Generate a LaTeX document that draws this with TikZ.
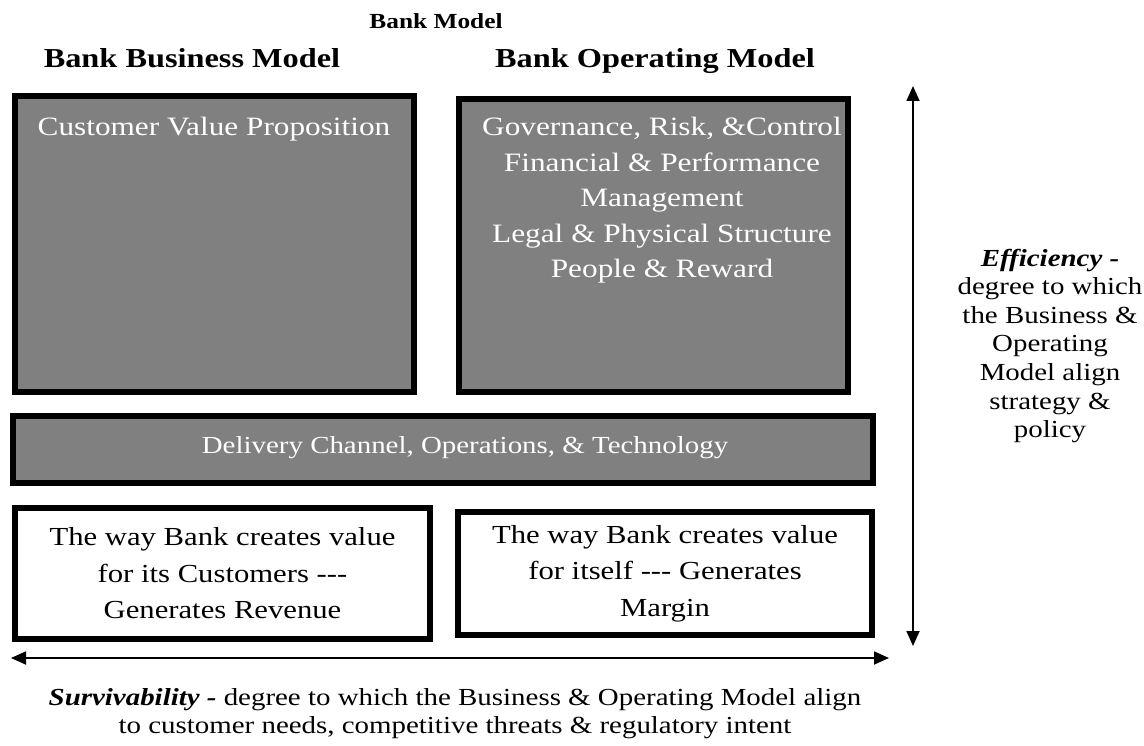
\documentclass[tikz,border=0pt]{standalone}
\usepackage{fontspec}
\setmainfont[FakeStretch=1.18]{Liberation Serif}
\usetikzlibrary{arrows.meta}
\definecolor{boxgray}{HTML}{808080}
\tikzset{
  x=1pt,y=-1pt,
  graybox/.style={draw=black,line width=5.5pt,fill=boxgray,rectangle,inner sep=0pt},
  whitebox/.style={draw=black,line width=5.5pt,fill=white,rectangle,inner sep=0pt,align=center,font=\fontsize{26}{36.5}\selectfont},
  wtext/.style={text=white,align=center,font=\fontsize{26.5}{35.5}\selectfont,inner sep=0pt},
  head/.style={font=\fontsize{27.4}{30}\selectfont\bfseries,inner sep=0pt,anchor=base},
  side/.style={align=center,font=\fontsize{24.5}{28.6}\selectfont,inner sep=0pt},
  axis/.style={line width=1.8pt,{Triangle[length=15pt,width=13pt]}-{Triangle[length=15pt,width=13pt]}}
}
\begin{document}
\begin{tikzpicture}
\useasboundingbox (0,0) rectangle (1144,746);
% headers
\node[head,font=\fontsize{21.5}{26}\selectfont\bfseries] (bm) at (436,29) {Bank Model};
\node[head] (bbm) at (192,68) {Bank Business Model};
\node[head] (bom) at (655,68) {Bank Operating Model};
% gray boxes
\node[graybox,minimum width=399,minimum height=296] (cvp) at (214.5,244) {};
\node[wtext,anchor=north] (cvpt) at (214,117) {Customer Value Proposition};
\node[graybox,minimum width=389,minimum height=293] (grc) at (653.5,245.5) {};
\node[wtext,anchor=north] (grct) at (662,117) {Governance, Risk, \&Control\\Financial \& Performance\\Management\\Legal \& Physical Structure\\People \& Reward};
\node[graybox,minimum width=860,minimum height=67] (dct) at (443,449.5) {};
\node[wtext,font=\fontsize{24.5}{30}\selectfont] (dctt) at (465,448) {Delivery Channel, Operations, \& Technology};
% white boxes
\node[whitebox,minimum width=415,minimum height=131] (cust) at (222.5,573.5) {The way Bank creates value\\for its Customers -{}-{}-\\Generates Revenue};
\node[whitebox,minimum width=414,minimum height=123] (self) at (665,573.5) {The way Bank creates value\\for itself -{}-{}- Generates\\Margin};
% axes
\coordinate (vt) at (913,86);
\coordinate (vb) at (913,646);
\coordinate (hl) at (11,658);
\coordinate (hr) at (889,658);
\draw[axis] (vt) -- (vb);
\draw[axis] (hl) -- (hr);
% side texts
\node[side] (eff) at (1050,346) {\textbf{\textit{Efficiency -}}\\degree to which\\the Business \&\\Operating\\Model align\\strategy \&\\policy};
\node[side,anchor=north] (surv) at (455,688) {\textbf{\textit{Survivability -}} degree to which the Business \& Operating Model align\\to customer needs, competitive threats \& regulatory intent};
\end{tikzpicture}
\end{document}
